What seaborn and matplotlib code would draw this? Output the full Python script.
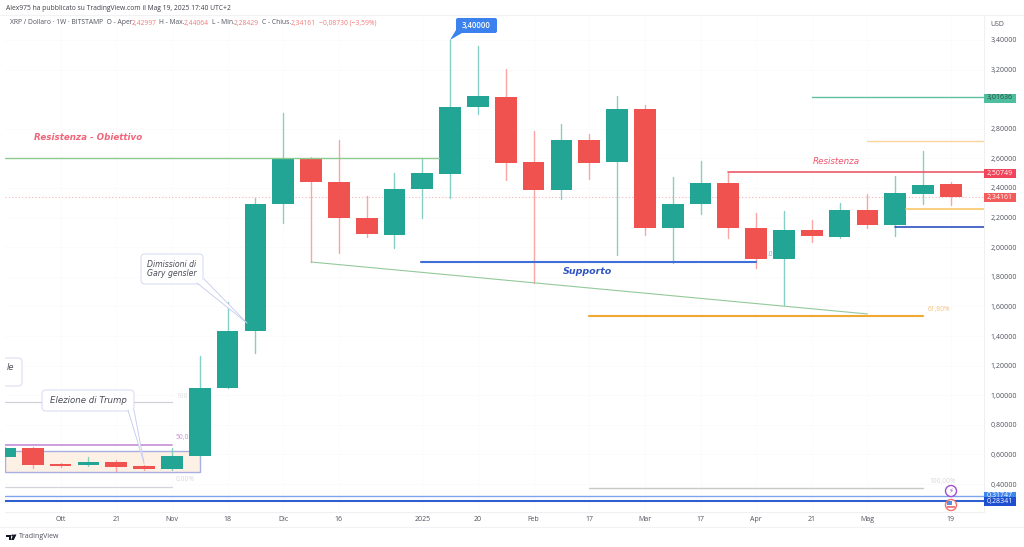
import matplotlib
matplotlib.use("Agg")
import matplotlib.pyplot as plt
from matplotlib.patches import Circle, FancyBboxPatch, Polygon, Rectangle
import numpy as np
import pandas as pd
import seaborn as sns

# weekly candles, week 0 = first week of Nov 2024
weeks = list(range(-6, 29))
opens = [0.582, 0.643, 0.532, 0.528, 0.549, 0.522, 0.501, 0.589, 1.049, 1.434, 2.292, 2.603,
         2.441, 2.197, 2.082, 2.393, 2.495, 2.947, 3.015, 2.576, 2.386, 2.724, 2.576, 2.934,
         2.130, 2.292, 2.434, 2.130, 1.920, 2.116, 2.069, 2.251, 2.150, 2.359, 2.42997]
closes = [0.643, 0.528, 0.525, 0.549, 0.515, 0.501, 0.589, 1.049, 1.434, 2.292, 2.603, 2.441,
          2.197, 2.089, 2.393, 2.501, 2.947, 3.022, 2.569, 2.386, 2.724, 2.569, 2.934, 2.130,
          2.292, 2.434, 2.130, 1.920, 2.116, 2.076, 2.251, 2.150, 2.366, 2.420, 2.34161]
highs = [0.650, 0.650, 0.540, 0.580, 0.560, 0.530, 0.643, 1.265, 1.630, 2.330, 2.907, 2.610,
         2.724, 2.346, 2.501, 2.603, 3.400, 3.359, 3.204, 2.785, 2.832, 2.765, 3.022, 2.961,
         2.474, 2.582, 2.501, 2.231, 2.245, 2.184, 2.299, 2.359, 2.481, 2.650, 2.44064]
lows = [0.575, 0.508, 0.515, 0.520, 0.488, 0.495, 0.495, 0.589, 1.049, 1.285, 2.164, 1.900,
        1.961, 2.069, 1.995, 2.197, 2.332, 2.900, 2.454, 1.758, 2.326, 2.461, 1.947, 2.082,
        1.893, 2.224, 2.062, 1.859, 1.609, 2.035, 2.062, 2.130, 2.076, 2.292, 2.28429]

# drawn levels: price, first week, last week, colour, width
level_names = ["resist_obj", "support", "fib618", "resist", "target", "upper", "fib_low", "blue_low",
               "fib50", "fib100", "fib0", "fib100b", "low1", "low2"]
level_prices = [2.603, 1.900, 1.535, 2.50749, 3.01636, 2.72, 2.258, 2.136, 0.664, 0.954, 0.380, 0.373,
                0.31747, 0.28341]
level_start = [-6, 8.95, 15, 20, 23, 25, 26.4, 26, -6, -6, -6, 15, -6, -6]
level_end = [9.6, 21, 27, 29.2, 29.2, 29.2, 29.2, 29.2, 0, 0, 0, 27, 29.2, 29.2]
level_colors = ["#8cc98f", "#3f6fd8", "#f0a830", "#ee5a6a", "#5fc0a0", "#fbd59a", "#fbc76a", "#2f50c0",
                "#c58fd6", "#d0d0dc", "#d4d4dc", "#c8c8c8", "#7ea4ee", "#2f5fd0"]
level_widths = [1.0, 1.5, 1.5, 1.2, 1.0, 1.0, 1.2, 1.2, 1.2, 0.9, 0.9, 1.0, 1.0, 1.5]

trend_weeks = [5, 25]
trend_prices = [1.90, 1.549]

price_ticks = [3.4, 3.2, 2.8, 2.6, 2.4, 2.2, 2.0, 1.8, 1.6, 1.4, 1.2, 1.0, 0.8, 0.6, 0.4]
price_labels = ["3,40000", "3,20000", "2,80000", "2,60000", "2,40000", "2,20000", "2,00000", "1,80000",
                "1,60000", "1,40000", "1,20000", "1,00000", "0,80000", "0,60000", "0,40000"]
week_ticks = [-4, -2, 0, 2, 4, 6, 9, 11, 13, 15, 17, 19, 21, 23, 25, 28]
week_labels = ["Ott", "21", "Nov", "18", "Dic", "16", "2025", "20", "Feb", "17", "Mar", "17", "Apr", "21",
               "Mag", "19"]

UP = "#22a594"
DOWN = "#f0524f"
TEXT = "#50535e"

sns.set_theme(style="white")
plt.rcParams["font.family"] = ["Open Sans", "DejaVu Sans"]

df = pd.DataFrame({"week": weeks, "open": opens, "close": closes, "high": highs, "low": lows})
df["rising"] = df["close"] >= df["open"]
df["bottom"] = df[["open", "close"]].min(axis=1)
df["body"] = (df["close"] - df["open"]).abs()

fig = plt.figure(figsize=(10.24, 5.47), dpi=100, facecolor="white")
ax = fig.add_axes([5 / 1024, 1 - 512 / 547, 979 / 1024, 496 / 547])

# wicks
wicks = df.melt(id_vars=["week", "rising"], value_vars=["high", "low"], value_name="price")
sns.lineplot(data=wicks, x="week", y="price", units="week", estimator=None, hue="rising",
             palette={True: "#86cfc6", False: "#f8a5a3"}, lw=1, legend=False, ax=ax, zorder=2)

# bodies
for flag, col in [(True, UP), (False, DOWN)]:
    part = df[df["rising"] == flag]
    sns.barplot(data=part, x="week", y="body", bottom=part["bottom"].values, native_scale=True,
                color=col, saturation=1, width=0.78, linewidth=0, errorbar=None, ax=ax, zorder=3)

# drawn levels
for name, p, a, b, c, w in zip(level_names, level_prices, level_start, level_end, level_colors, level_widths):
    sns.lineplot(x=[a, b], y=[p, p], color=c, lw=w, ax=ax, zorder=4, legend=False)
sns.lineplot(x=trend_weeks, y=trend_prices, color="#93c99b", lw=0.8, ax=ax, zorder=2.5)
sns.lineplot(x=[20, 20], y=[2.434, 2.50749], color="#ee5a6a", lw=1, ax=ax, zorder=4)
ax.axhline(closes[-1], color="#f7b5b3", lw=0.8, ls=(0, (1, 2)), zorder=1)
ax.add_patch(Rectangle((-6, 0.481), 7, 0.142, facecolor="#fdf1e5", edgecolor="#a9aee0", lw=1, zorder=1))

ax.set_xlim(-6, 29.19)
ax.set_ylim(0.211, 3.562)
ax.yaxis.tick_right()
ax.set_yticks(price_ticks, price_labels)
ax.set_xticks(week_ticks, week_labels)
ax.tick_params(axis="y", length=0, pad=4.5, labelsize=5, labelcolor=TEXT)
ax.tick_params(axis="x", length=0, pad=3, labelsize=5, labelcolor=TEXT)
ax.set_xlabel("")
ax.set_ylabel("")
ax.grid(True, color="#fbfbfc", lw=0.7)
ax.set_axisbelow(True)
for side in ["top", "left", "right", "bottom"]:
    ax.spines[side].set_visible(False)
ax.spines["right"].set_visible(True)
ax.spines["right"].set_color("#f0f0f3")
ax.spines["right"].set_linewidth(0.8)
ax.spines["bottom"].set_visible(True)
ax.spines["bottom"].set_color("#f0f0f3")
ax.spines["bottom"].set_linewidth(0.8)

# overlay in pixels for texts, callouts and axis tags
ov = fig.add_axes([0, 0, 1, 1], facecolor="none")
ov.set_xlim(0, 1024)
ov.set_ylim(547, 0)
ov.axis("off")


def callout(x0, y0, x1, y1, tail, label, tx, ty, size=6.2):
    box = FancyBboxPatch((x0 + 3, y0 + 3), x1 - x0 - 6, y1 - y0 - 6, boxstyle="round,pad=3,rounding_size=4",
                         facecolor="white", edgecolor="#d0d3f2", lw=0.6, zorder=6)
    ov.add_patch(box)
    if tail:
        ov.add_patch(Polygon(tail, facecolor="white", edgecolor="none", zorder=7))
        ov.plot([tail[0][0], tail[1][0]], [tail[0][1], tail[1][1]], color="#c4c8ee", lw=0.6, zorder=8)
        ov.plot([tail[2][0], tail[1][0]], [tail[2][1], tail[1][1]], color="#c4c8ee", lw=0.6, zorder=8)
    ov.text(tx, ty, label, style="italic", family="DejaVu Sans", fontsize=size, color="#4a4d57",
            ha="center", va="center", zorder=9, linespacing=1.05)


callout(42, 390, 134, 411, [(128, 410), (144, 463), (134, 410)], "Elezione di Trump", 88, 400.5)
callout(141, 254, 203, 284, [(197, 283), (247, 323), (204, 279)], "Dimissioni di\nGary gensler", 172, 269, 5.6)
ov.add_patch(FancyBboxPatch((2, 361), 17, 22, boxstyle="round,pad=3,rounding_size=4", facecolor="white",
                            edgecolor="#d0d3f2", lw=0.6, zorder=6))
ov.add_patch(Rectangle((0, 355), 5, 34, facecolor="white", edgecolor="none", zorder=7))
ov.text(10, 367, "le", style="italic", family="DejaVu Sans", fontsize=6, color="#4a4d57", ha="center",
        va="center", zorder=9)

# max price bubble
ov.add_patch(FancyBboxPatch((458, 20), 37, 11, boxstyle="round,pad=2,rounding_size=2", facecolor="#3b82ee",
                            edgecolor="none", zorder=6))
ov.add_patch(Polygon([(450, 40), (456, 30), (462, 33)], facecolor="#3b82ee", edgecolor="none", zorder=6))
ov.text(476.5, 25.5, "3,40000", color="white", fontsize=5.6, fontweight="semibold", ha="center", va="center", zorder=7)

# free texts
ov.text(34, 138, "Resistenza - Obiettivo", color="#f0667a", style="italic", fontweight="bold", fontsize=6.3,
        family="DejaVu Sans", va="center")
ov.text(813, 161.5, "Resistenza", color="#f0566e", style="italic", fontsize=6.3, family="DejaVu Sans", va="center")
ov.text(563, 271, "Supporto", color="#2f55c0", style="italic", fontweight="bold", fontsize=6.8,
        family="DejaVu Sans", va="center")
ov.text(928, 309, "61,80%", color="#f6c27a", fontsize=4.8, va="center")
ov.text(929, 481, "100,00%", color="#d8d8dc", fontsize=4.8, va="center")
ov.text(176, 480, "0,00%", color="#d8d8dc", fontsize=4.8, va="center")
ov.text(176, 438, "50,0", color="#c58fd6", fontsize=4.8, va="center", zorder=1)
ov.text(176, 396, "100", color="#dcdce0", fontsize=4.8, va="center", zorder=1)
ov.text(768, 254, ".0", color="#7ea4ee", fontsize=4.8, va="center", zorder=1)

# header
ov.plot([0, 1024], [15, 15], color="#f2f2f4", lw=0.8)
ov.plot([0, 1024], [527, 527], color="#f2f2f4", lw=0.8)
ov.text(6, 8, "Alex975 ha pubblicato su TradingView.com il Mag 19, 2025 17:40 UTC+2", fontsize=4.9, color="#3c3f48",
        va="center")
legend_parts = [(10, "XRP / Dollaro · 1W · BITSTAMP  O - Aper.", "#50535e"), (132, "2,42997", "#f27a78"),
                (159, "H - Max.", "#50535e"), (184, "2,44064", "#f27a78"), (212, "L - Min.", "#50535e"),
                (234, "2,28429", "#f27a78"), (262, "C - Chius.", "#50535e"), (291, "2,34161", "#f27a78"),
                (319, "−0,08730 (−3,59%)", "#f27a78")]
for x, s, c in legend_parts:
    ov.text(x, 23, s, fontsize=4.9, color=c, va="center")
ov.text(997, 24, "USD", fontsize=5, color=TEXT, va="center", ha="center")

# price tags on the axis
tag_y = [98, 173, 197.5, 496, 501]
tag_text = ["3,01636", "2,50749", "2,34161", "0,31747", "0,28341"]
tag_bg = ["#4dbf9e", "#f0455a", "#f25c5a", "#3f86f0", "#1d4fd0"]
tag_fg = ["#2a4a40", "white", "white", "white", "white"]
for y, s, bg, fg in zip(tag_y, tag_text, tag_bg, tag_fg):
    ov.add_patch(Rectangle((984, y - 4.5), 32, 9, facecolor=bg, edgecolor="none", zorder=6))
    ov.text(1000, y, s, color=fg, fontsize=5, ha="center", va="center", zorder=7)

# event icons
ov.add_patch(Circle((951, 491), 5.5, facecolor="white", edgecolor="#a050d0", lw=1, zorder=6))
ov.text(951, 491, "⚡", color="#a050d0", fontsize=5, ha="center", va="center", family="DejaVu Sans", zorder=7)
ov.add_patch(Circle((951, 505), 5.5, facecolor="white", edgecolor="#f07070", lw=1, zorder=6))
ov.add_patch(Rectangle((947, 506), 8, 1.5, facecolor="#f08080", edgecolor="none", zorder=7))
ov.add_patch(Rectangle((947, 501), 5, 4, facecolor="#5a90e0", edgecolor="none", zorder=7))

# logo
ov.add_patch(Polygon([(6, 534.5), (11, 534.5), (11, 540), (8.5, 540), (8.5, 536.5), (6, 536.5)], facecolor="#131722",
                     edgecolor="none"))
ov.add_patch(Circle((12.3, 535.5), 1, facecolor="#131722", edgecolor="none"))
ov.add_patch(Polygon([(13.5, 534.5), (16.5, 534.5), (13.8, 540), (11, 540)], facecolor="#131722", edgecolor="none"))
ov.text(19, 537, "TradingView", fontsize=5, color="#50535e", va="center")

fig.savefig("out.png", dpi=100, facecolor="white")
